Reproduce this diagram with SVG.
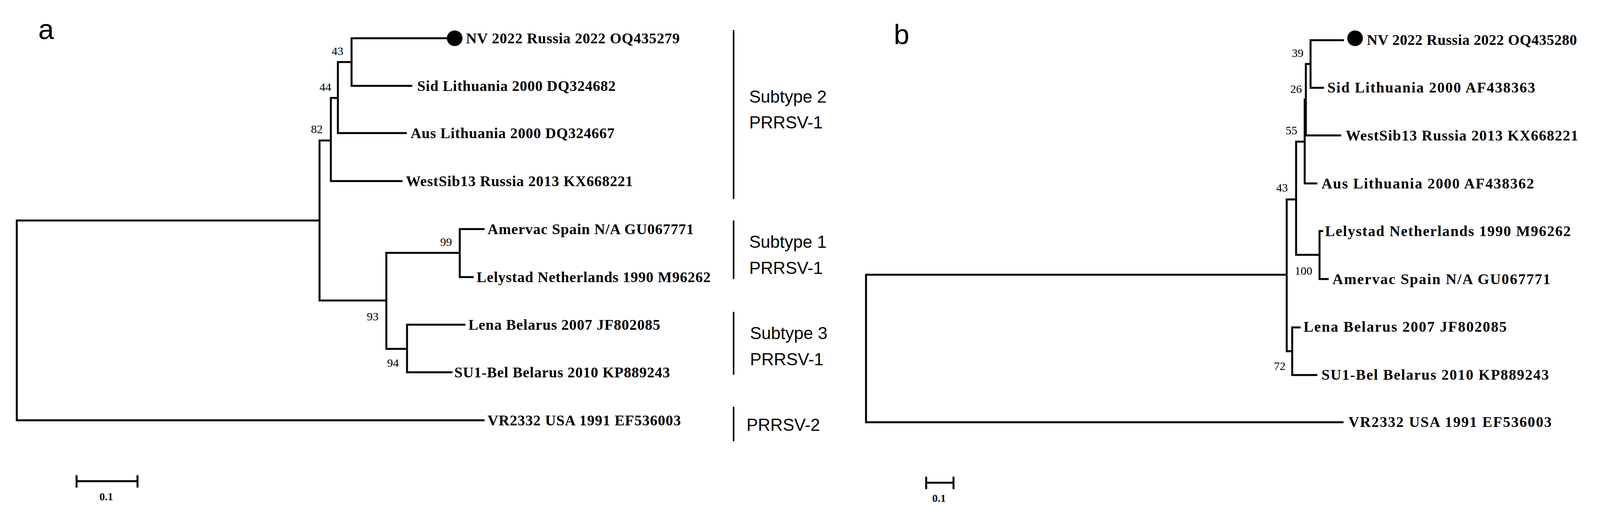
<svg xmlns="http://www.w3.org/2000/svg" width="4465" height="1312" viewBox="0 0 4465 1312">
<style>
.br{fill:none;stroke:#000;stroke-width:5;stroke-linecap:square}
.bar{stroke:#000;stroke-width:4}
.lf{font-family:"Liberation Serif",serif;font-weight:bold;font-size:38px;dominant-baseline:central}
.bs{font-family:"Liberation Serif",serif;font-size:30px;text-anchor:middle;dominant-baseline:central}
.st{font-family:"Liberation Sans",sans-serif;font-size:44px;dominant-baseline:central}
.pl{font-family:"Liberation Sans",sans-serif;font-size:72px}
.sc{font-family:"Liberation Serif",serif;font-weight:bold;font-size:28px;text-anchor:middle;dominant-baseline:central}
</style>
<rect width="4465" height="1312" fill="#fff"/>
<text class="pl" x="98" y="100">a</text>
<text class="pl" x="2288" y="113">b</text>
<g id="connectors-a">
<path class="br" d="M1145,98 H900 V220 H1053 M900,159 H865 V341 H1039 M865,251 H847 V464 H1028 M847,360 H818 V770 H989 M818,565 H43 V1077 H1238 M989,648 V894 M1177,587 H1238 M1177,587 V710 H1210 M989,648 H1177 M1042,832 H1189 M1042,832 V954 H1156 M989,894 H1042"/>
</g>
<g id="connectors-b">
<path class="br" d="M3438,103 H3355 V225 H3387 M3355,164 H3343 V347 H3431 M3343,255 H3340 V470 H3370 M3340,363 H3318 V653 H3378 M3378,592 V715 M3378,592 H3385 M3378,715 H3399 M3318,511 H3294 V900 H3308 M3308,839 V961 M3308,839 H3327 M3308,961 H3370 M3294,704 H2217 V1082 H3437"/>
</g>
<g id="nodes-a">
<circle cx="1164" cy="98" r="20"/>
<g id="a-nv"><text class="lf" x="1193" y="98" textLength="547">NV 2022 Russia 2022 OQ435279</text></g>
<g id="a-sid"><text class="lf" x="1068" y="220" textLength="508">Sid Lithuania 2000 DQ324682</text></g>
<g id="a-aus"><text class="lf" x="1051" y="341" textLength="522">Aus Lithuania 2000 DQ324667</text></g>
<g id="a-ws"><text class="lf" x="1039" y="464" textLength="581">WestSib13 Russia 2013 KX668221</text></g>
<g id="a-am"><text class="lf" x="1248" y="587" textLength="528">Amervac Spain N/A GU067771</text></g>
<g id="a-le"><text class="lf" x="1220" y="710" textLength="599">Lelystad Netherlands 1990 M96262</text></g>
<g id="a-lena"><text class="lf" x="1199" y="832" textLength="491">Lena Belarus 2007 JF802085</text></g>
<g id="a-su1"><text class="lf" x="1163" y="954" textLength="552">SU1-Bel Belarus 2010 KP889243</text></g>
<g id="a-vr"><text class="lf" x="1248" y="1077" textLength="495">VR2332 USA 1991 EF536003</text></g>
<text class="bs" x="864" y="130">43</text>
<text class="bs" x="833" y="222">44</text>
<text class="bs" x="811" y="330">82</text>
<text class="bs" x="1142" y="619">99</text>
<text class="bs" x="954" y="810">93</text>
<text class="bs" x="1006" y="929">94</text>
<line class="bar" x1="1878" y1="77" x2="1878" y2="510"/>
<line class="bar" x1="1878" y1="565" x2="1878" y2="715"/>
<line class="bar" x1="1878" y1="799" x2="1878" y2="960"/>
<line class="bar" x1="1878" y1="1042" x2="1878" y2="1131"/>
<text class="st" x="1918" y="247">Subtype 2</text>
<text class="st" x="1918" y="313">PRRSV-1</text>
<text class="st" x="1918" y="619">Subtype 1</text>
<text class="st" x="1918" y="686">PRRSV-1</text>
<text class="st" x="1920" y="853">Subtype 3</text>
<text class="st" x="1920" y="920">PRRSV-1</text>
<text class="st" x="1911" y="1088">PRRSV-2</text>
<path class="br" d="M196,1220 V1247 M196,1233 H352 M352,1220 V1247"/>
<text class="sc" x="272" y="1272">0.1</text>
</g>
<g id="nodes-b">
<circle cx="3469" cy="98" r="20"/>
<g id="b-nv"><text class="lf" x="3499" y="102" textLength="538">NV 2022 Russia 2022 OQ435280</text></g>
<g id="b-sid"><text class="lf" x="3398" y="224" textLength="532">Sid Lithuania 2000 AF438363</text></g>
<g id="b-ws"><text class="lf" x="3445" y="347" textLength="595">WestSib13 Russia 2013 KX668221</text></g>
<g id="b-aus"><text class="lf" x="3383" y="470" textLength="544">Aus Lithuania 2000 AF438362</text></g>
<g id="b-le"><text class="lf" x="3392" y="592" textLength="629">Lelystad Netherlands 1990 M96262</text></g>
<g id="b-am"><text class="lf" x="3411" y="715" textLength="558">Amervac Spain N/A GU067771</text></g>
<g id="b-lena"><text class="lf" x="3337" y="837" textLength="520">Lena Belarus 2007 JF802085</text></g>
<g id="b-su1"><text class="lf" x="3383" y="960" textLength="582">SU1-Bel Belarus 2010 KP889243</text></g>
<g id="b-vr"><text class="lf" x="3452" y="1081" textLength="520">VR2332 USA 1991 EF536003</text></g>
<text class="bs" x="3322" y="135">39</text>
<text class="bs" x="3318" y="227">26</text>
<text class="bs" x="3306" y="333">55</text>
<text class="bs" x="3282" y="480">43</text>
<text class="bs" x="3337" y="693">100</text>
<text class="bs" x="3276" y="937">72</text>
<line class="bar" x1="4118" y1="74" x2="4118" y2="511"/>
<line class="bar" x1="4118" y1="562" x2="4118" y2="757"/>
<line class="bar" x1="4118" y1="837" x2="4118" y2="990"/>
<line class="bar" x1="4118" y1="1042" x2="4118" y2="1120"/>
<text class="st" x="4163" y="217">Subtype 2</text>
<text class="st" x="4163" y="283">PRRSV-1</text>
<text class="st" x="4165" y="619">Subtype 1</text>
<text class="st" x="4165" y="688">PRRSV-1</text>
<text class="st" x="4163" y="877">Subtype 3</text>
<text class="st" x="4163" y="946">PRRSV-1</text>
<text class="st" x="4156" y="1081">PRRSV-2</text>
<path class="br" d="M2371,1224 V1251 M2371,1237 H2441 M2441,1224 V1251"/>
<text class="sc" x="2404" y="1276">0.1</text>
</g>
</svg>
